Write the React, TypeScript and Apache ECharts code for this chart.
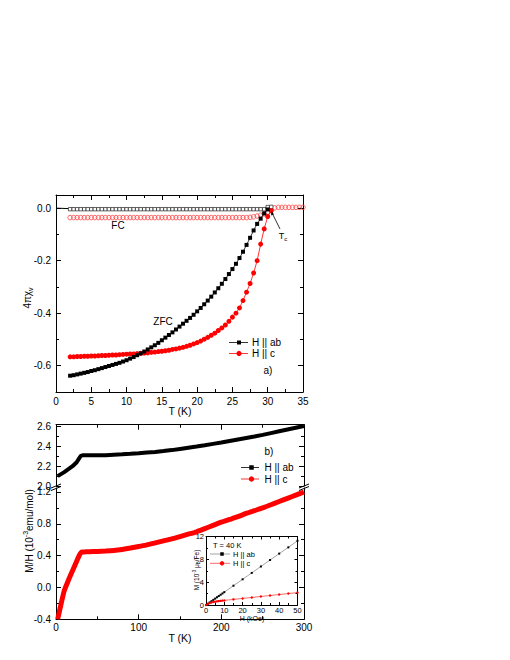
import React, { useEffect, useRef } from 'react';
import * as echarts from 'echarts';

const FONT = '"Liberation Sans", Arial, Helvetica, sans-serif';

// ---------- Panel a) : 4*pi*chi_v vs T ----------
const tempA = [2, 2.5, 3, 3.5, 4, 4.5, 5, 5.5, 6, 6.5, 7, 7.5, 8, 8.5, 9, 9.5, 10, 10.5, 11, 11.5, 12, 12.5, 13, 13.5, 14, 14.5, 15, 15.5, 16, 16.5, 17, 17.5, 18, 18.5, 19, 19.5, 20, 20.5, 21, 21.5, 22, 22.5, 23, 23.5, 24, 24.5, 25, 25.5, 26, 26.5, 27, 27.5, 28, 28.5, 29, 29.5, 30, 30.5, 31, 31.5, 32, 32.5, 33, 33.5, 34, 34.5, 35];

const zfcAb = [-0.638, -0.636, -0.633, -0.630, -0.627, -0.624, -0.620, -0.617, -0.613, -0.609, -0.605, -0.601, -0.597, -0.593, -0.589, -0.584, -0.579, -0.573, -0.567, -0.560, -0.553, -0.546, -0.538, -0.530, -0.522, -0.513, -0.503, -0.493, -0.483, -0.473, -0.462, -0.451, -0.440, -0.429, -0.418, -0.406, -0.393, -0.380, -0.366, -0.352, -0.337, -0.321, -0.305, -0.288, -0.270, -0.251, -0.232, -0.212, -0.190, -0.166, -0.140, -0.113, -0.085, -0.060, -0.040, -0.020, -0.005];

const zfcC = [-0.566, -0.566, -0.565, -0.565, -0.564, -0.564, -0.563, -0.563, -0.562, -0.561, -0.561, -0.560, -0.559, -0.559, -0.558, -0.557, -0.556, -0.555, -0.555, -0.554, -0.553, -0.552, -0.551, -0.549, -0.548, -0.546, -0.545, -0.543, -0.541, -0.538, -0.536, -0.533, -0.530, -0.526, -0.522, -0.517, -0.512, -0.506, -0.499, -0.492, -0.484, -0.476, -0.466, -0.456, -0.445, -0.431, -0.415, -0.400, -0.380, -0.352, -0.320, -0.287, -0.247, -0.200, -0.137, -0.079, -0.032, -0.010];

const fcAb = [-0.004, -0.004, -0.004, -0.004, -0.004, -0.004, -0.004, -0.004, -0.004, -0.004, -0.004, -0.004, -0.004, -0.004, -0.004, -0.004, -0.004, -0.004, -0.004, -0.004, -0.004, -0.004, -0.004, -0.004, -0.004, -0.004, -0.004, -0.004, -0.004, -0.004, -0.004, -0.004, -0.004, -0.004, -0.004, -0.004, -0.004, -0.004, -0.004, -0.004, -0.004, -0.004, -0.004, -0.004, -0.004, -0.004, -0.004, -0.004, -0.004, -0.004, -0.004, -0.004, -0.004, -0.004, -0.004, -0.004, 0.004, 0.005];

const fcC = [-0.036, -0.036, -0.036, -0.036, -0.036, -0.036, -0.036, -0.036, -0.036, -0.036, -0.036, -0.036, -0.036, -0.036, -0.036, -0.036, -0.036, -0.036, -0.036, -0.036, -0.036, -0.036, -0.036, -0.036, -0.036, -0.036, -0.036, -0.036, -0.036, -0.036, -0.036, -0.036, -0.036, -0.036, -0.036, -0.036, -0.036, -0.036, -0.036, -0.036, -0.036, -0.036, -0.036, -0.036, -0.036, -0.036, -0.036, -0.036, -0.036, -0.036, -0.036, -0.035, -0.033, -0.030, -0.027, -0.022, -0.015, -0.006, 0.001, 0.003, 0.003, 0.003, 0.003, 0.003, 0.003, 0.003, 0.003];

const baseLineT = [0, 2];
const baseLineV = [0, -0.002];

// ---------- Panel b) : M/H vs T ----------
const tempB = [2, 5, 10, 15, 20, 25, 28, 30, 32, 35, 40, 50, 60, 70, 80, 90, 100, 110, 120, 130, 140, 150, 160, 170, 180, 190, 200, 210, 220, 230, 240, 250, 260, 270, 280, 290, 300];
const mhAb = [2.10, 2.115, 2.14, 2.17, 2.20, 2.24, 2.28, 2.305, 2.31, 2.31, 2.31, 2.31, 2.312, 2.316, 2.32, 2.325, 2.331, 2.338, 2.345, 2.353, 2.363, 2.375, 2.387, 2.399, 2.412, 2.426, 2.44, 2.455, 2.47, 2.485, 2.50, 2.517, 2.535, 2.553, 2.571, 2.589, 2.607];
const mhC = [-0.40, -0.26, -0.04, 0.09, 0.21, 0.33, 0.40, 0.435, 0.445, 0.447, 0.45, 0.452, 0.457, 0.465, 0.478, 0.495, 0.515, 0.535, 0.56, 0.585, 0.61, 0.64, 0.67, 0.70, 0.74, 0.78, 0.82, 0.855, 0.89, 0.93, 0.965, 1.00, 1.04, 1.08, 1.12, 1.16, 1.20];

// ---------- Inset : M vs H at 40 K ----------
const fieldH = [0, 1, 2, 3, 4, 5, 6, 7, 8, 9, 10, 15, 20, 25, 30, 35, 40, 45, 50];
const mAb = [0, 0.22, 0.45, 0.67, 0.9, 1.12, 1.35, 1.57, 1.8, 2.02, 2.25, 3.38, 4.5, 5.62, 6.75, 7.88, 9.0, 10.1, 11.25];
const mC = [0, 0.2, 0.35, 0.45, 0.52, 0.58, 0.63, 0.68, 0.72, 0.76, 0.8, 0.98, 1.15, 1.32, 1.5, 1.66, 1.83, 2.0, 2.17];

// ---------- ticks ----------
const aXMajor = [0, 5, 10, 15, 20, 25, 30, 35];
const aXMinor = [2.5, 7.5, 12.5, 17.5, 22.5, 27.5, 32.5];
const aYMajor = [-0.6, -0.4, -0.2, 0];
const aYMinor = [-0.7, -0.5, -0.3, -0.1];
const bXMajor = [0, 100, 200, 300];
const bXMinor = [50, 150, 250];
const bYUpMajor = [2.0, 2.2, 2.4, 2.6];
const bYUpMinor = [2.1, 2.3, 2.5];
const bYLoMajor = [-0.4, 0, 0.4, 0.8, 1.2];
const bYLoMinor = [-0.2, 0.2, 0.6, 1.0];
const iXMajor = [0, 10, 20, 30, 40, 50];
const iXMinor = [5, 15, 25, 35, 45];
const iYMajor = [0, 4, 8, 12];
const iYMinor = [2, 6, 10];

const RED = '#ff0000';

const pair = (xs: number[], ys: number[]) => ys.map((y, i) => [xs[i], y]);

function majorAxis(gridIndex: number, position: string, min: number, max: number, vals: number[],
  label: boolean, fs: number, margin: number, dec: number, len: number) {
  return {
    type: 'value', gridIndex, position, min, max,
    axisLine: { show: true, onZero: false, lineStyle: { color: '#000', width: 1 } },
    axisTick: { show: true, inside: true, length: len, customValues: vals, lineStyle: { color: '#000', width: 1 } },
    axisLabel: {
      show: label, customValues: vals, fontSize: fs, margin, color: '#000', fontFamily: FONT,
      formatter: (v: number) => Number(v).toFixed(dec),
    },
    splitLine: { show: false },
    minorTick: { show: false },
  };
}

function minorAxis(gridIndex: number, position: string, min: number, max: number, vals: number[], len: number) {
  return {
    type: 'value', gridIndex, position, min, max,
    axisLine: { show: false, onZero: false },
    axisTick: { show: true, inside: true, length: len, customValues: vals, lineStyle: { color: '#000', width: 1 } },
    axisLabel: { show: false, customValues: vals },
    splitLine: { show: false },
    minorTick: { show: false },
  };
}

const xAxes = [
  majorAxis(0, 'bottom', 0, 35, aXMajor, true, 10, 4, 0, 5), // 0
  minorAxis(0, 'bottom', 0, 35, aXMinor, 3),
  majorAxis(0, 'top', 0, 35, aXMajor, false, 10, 4, 0, 5),
  minorAxis(0, 'top', 0, 35, aXMinor, 3),
  majorAxis(1, 'top', 0, 300, bXMajor, false, 10, 4, 0, 5), // 4
  minorAxis(1, 'top', 0, 300, bXMinor, 3),
  majorAxis(2, 'bottom', 0, 300, bXMajor, true, 10, 3, 0, 5), // 6
  minorAxis(2, 'bottom', 0, 300, bXMinor, 3),
  majorAxis(3, 'bottom', 0, 50, iXMajor, true, 7.5, 1, 0, 3), // 8
  minorAxis(3, 'bottom', 0, 50, iXMinor, 2),
  majorAxis(3, 'top', 0, 50, iXMajor, false, 7.5, 1, 0, 3),
  minorAxis(3, 'top', 0, 50, iXMinor, 2),
];

const yAxes = [
  majorAxis(0, 'left', -0.7, 0.05, aYMajor, true, 10, 5, 1, 5), // 0
  minorAxis(0, 'left', -0.7, 0.05, aYMinor, 3),
  majorAxis(0, 'right', -0.7, 0.05, aYMajor, false, 10, 5, 1, 5),
  minorAxis(0, 'right', -0.7, 0.05, aYMinor, 3),
  majorAxis(1, 'left', 2.0, 2.62, bYUpMajor, true, 10, 5, 1, 5), // 4
  minorAxis(1, 'left', 2.0, 2.62, bYUpMinor, 3),
  majorAxis(1, 'right', 2.0, 2.62, bYUpMajor, false, 10, 5, 1, 5),
  minorAxis(1, 'right', 2.0, 2.62, bYUpMinor, 3),
  majorAxis(2, 'left', -0.4, 1.25, bYLoMajor, true, 10, 5, 1, 5), // 8
  minorAxis(2, 'left', -0.4, 1.25, bYLoMinor, 3),
  majorAxis(2, 'right', -0.4, 1.25, bYLoMajor, false, 10, 5, 1, 5),
  minorAxis(2, 'right', -0.4, 1.25, bYLoMinor, 3),
  majorAxis(3, 'left', 0, 12, iYMajor, true, 7.5, 2, 0, 3), // 12
  minorAxis(3, 'left', 0, 12, iYMinor, 2),
  majorAxis(3, 'right', 0, 12, iYMajor, false, 7.5, 2, 0, 3),
  minorAxis(3, 'right', 0, 12, iYMinor, 2),
];

const txt = (x: number, y: number, text: string, fs: number, extra: any = {}) => ({
  type: 'text', x, y, z: 100,
  style: { text, fontSize: fs, fontFamily: FONT, fill: '#000', align: 'center', verticalAlign: 'middle', ...extra },
});
const seg = (x1: number, y1: number, x2: number, y2: number, color = '#000', w = 1) => ({
  type: 'line', z: 100, shape: { x1, y1, x2, y2 }, style: { stroke: color, lineWidth: w },
});
const sq = (cx: number, cy: number, s: number, color = '#000') => ({
  type: 'rect', z: 101, shape: { x: cx - s / 2, y: cy - s / 2, width: s, height: s }, style: { fill: color },
});
const dot = (cx: number, cy: number, r: number, color = RED) => ({
  type: 'circle', z: 101, shape: { cx, cy, r }, style: { fill: color },
});

const graphics = [
  // panel a texts
  txt(118, 225, 'FC', 10),
  txt(163, 321, 'ZFC', 10),
  txt(268, 370.5, 'a)', 10),
  {
    type: 'text', x: 283, y: 236, z: 100,
    style: {
      text: '{n|T}{s|c}', align: 'center', verticalAlign: 'middle', fill: '#000', fontFamily: FONT,
      rich: {
        n: { fontSize: 9, lineHeight: 12, verticalAlign: 'middle', fontFamily: FONT, fill: '#000' },
        s: { fontSize: 6, lineHeight: 6, verticalAlign: 'bottom', fontFamily: FONT, fill: '#000' },
      },
    },
  },
  seg(280, 229, 271.6, 212, '#000', 0.8),
  { type: 'polygon', z: 100, shape: { points: [[271.2, 211], [274.0, 214.2], [271.2, 215.5]] }, style: { fill: '#000' } },
  // panel a legend
  seg(229, 342.5, 248, 342.5, '#000', 0.8), sq(239, 342.5, 4),
  txt(252, 342.5, 'H || ab', 10, { align: 'left' }),
  seg(229, 353.5, 248, 353.5, RED, 0.8), dot(239, 353.5, 2.6),
  txt(252, 353.5, 'H || c', 10, { align: 'left' }),
  // axis titles
  txt(180, 410.5, 'T (K)', 10.5),
  txt(180, 637.5, 'T (K)', 10.5),
  {
    type: 'text', x: 27, y: 298, rotation: Math.PI / 2, z: 100,
    style: {
      text: '{n|4πχ}{s|v}', align: 'center', verticalAlign: 'middle', fill: '#000', fontFamily: FONT,
      rich: {
        n: { fontSize: 10, lineHeight: 14, verticalAlign: 'middle', fontFamily: FONT, fill: '#000' },
        s: { fontSize: 7, lineHeight: 7, verticalAlign: 'bottom', fontFamily: FONT, fill: '#000' },
      },
    },
  },
  {
    type: 'text', x: 29, y: 531, rotation: Math.PI / 2, z: 100,
    style: {
      text: '{n|M/H (10}{p|-3}{n|emu/mol)}', align: 'center', verticalAlign: 'middle', fill: '#000', fontFamily: FONT,
      rich: {
        n: { fontSize: 10, lineHeight: 14, verticalAlign: 'middle', fontFamily: FONT, fill: '#000' },
        p: { fontSize: 7, lineHeight: 7, verticalAlign: 'top', fontFamily: FONT, fill: '#000' },
      },
    },
  },
  // panel b texts
  txt(269, 451.5, 'b)', 10),
  seg(241, 467.5, 259, 467.5, '#000', 0.8), sq(251.5, 467.5, 4.5),
  txt(264.5, 467.5, 'H || ab', 10, { align: 'left' }),
  seg(241, 479, 259, 479, RED, 0.8), dot(251.5, 479, 2.7),
  txt(264.5, 479, 'H || c', 10, { align: 'left' }),
  // axis breaks
  seg(51, 488, 61, 484, '#000', 1),
  seg(51, 490.5, 61, 486.5, '#000', 1),
  seg(299, 488, 309, 484, '#000', 1),
  seg(299, 490.5, 309, 486.5, '#000', 1),
  // inset texts
  txt(213, 545, 'T = 40 K', 7.5, { align: 'left' }),
  seg(210, 554, 230, 554, '#666', 0.6), sq(222, 554, 3.5),
  txt(233, 554, 'H || ab', 7.5, { align: 'left' }),
  seg(210, 563.3, 230, 563.3, RED, 0.6), dot(222, 563.3, 2.2),
  txt(233, 563.3, 'H || c', 7.5, { align: 'left' }),
  txt(252, 618.5, 'H (kOe)', 7),
  {
    type: 'text', x: 196.5, y: 570, rotation: Math.PI / 2, z: 100,
    style: {
      text: '{n|M (10}{p|-3}{n| μ}{s|B}{n|/Fe)}', align: 'center', verticalAlign: 'middle', fill: '#000', fontFamily: FONT,
      rich: {
        n: { fontSize: 6.5, lineHeight: 9, verticalAlign: 'middle', fontFamily: FONT, fill: '#000' },
        p: { fontSize: 4.5, lineHeight: 4.5, verticalAlign: 'top', fontFamily: FONT, fill: '#000' },
        s: { fontSize: 4.5, lineHeight: 4.5, verticalAlign: 'bottom', fontFamily: FONT, fill: '#000' },
      },
    },
  },
];

export default function App() {
  const ref = useRef<HTMLDivElement>(null);
  useEffect(() => {
    if (!ref.current) return;
    const chart = echarts.init(ref.current, null, { renderer: 'svg' });
    chart.setOption({
      animation: false,
      backgroundColor: '#fff',
      textStyle: { fontFamily: FONT },
      grid: [
        { left: 56, top: 195, width: 247, height: 197 },
        { left: 56, top: 424.7, width: 248, height: 61.3 },
        { left: 56, top: 488, width: 248, height: 131.3 },
        { left: 206, top: 536.5, width: 91.5, height: 68.5, show: true, backgroundColor: '#fff', borderWidth: 0 },
      ],
      xAxis: xAxes,
      yAxis: yAxes,
      graphic: { elements: graphics },
      series: [
        {
          type: 'line', xAxisIndex: 0, yAxisIndex: 0, data: pair(baseLineT, baseLineV),
          showSymbol: false, symbol: 'none', lineStyle: { color: '#000', width: 1 }, z: 2,
        },
        {
          type: 'line', xAxisIndex: 0, yAxisIndex: 0, data: pair(tempA, fcC),
          symbol: 'circle', symbolSize: 4.5, lineStyle: { width: 0, opacity: 0 },
          itemStyle: { color: 'rgba(255,255,255,0)', borderColor: '#ff3b3b', borderWidth: 0.8 }, z: 3,
        },
        {
          type: 'line', xAxisIndex: 0, yAxisIndex: 0, data: pair(tempA, fcAb),
          symbol: 'rect', symbolSize: 3.4, lineStyle: { width: 0, opacity: 0 },
          itemStyle: { color: '#fff', borderColor: '#222', borderWidth: 0.7 }, z: 4,
        },
        {
          type: 'line', xAxisIndex: 0, yAxisIndex: 0, data: pair(tempA, zfcC),
          symbol: 'circle', symbolSize: 5, lineStyle: { color: RED, width: 0.8 },
          itemStyle: { color: RED }, z: 5,
        },
        {
          type: 'line', xAxisIndex: 0, yAxisIndex: 0, data: pair(tempA, zfcAb),
          symbol: 'rect', symbolSize: 4, lineStyle: { color: '#000', width: 0.8 },
          itemStyle: { color: '#000' }, z: 6,
        },
        {
          type: 'line', xAxisIndex: 4, yAxisIndex: 4, data: pair(tempB, mhAb),
          symbol: 'none', lineStyle: { color: '#000', width: 4 }, z: 3,
        },
        {
          type: 'line', xAxisIndex: 6, yAxisIndex: 8, data: pair(tempB, mhC),
          symbol: 'none', smooth: 0.2, lineStyle: { color: RED, width: 5 }, z: 3,
        },
        {
          type: 'line', xAxisIndex: 8, yAxisIndex: 12, data: pair(fieldH, mAb),
          symbol: 'rect', symbolSize: 2, lineStyle: { color: '#666', width: 0.6 },
          itemStyle: { color: '#000' }, z: 6,
        },
        {
          type: 'line', xAxisIndex: 8, yAxisIndex: 12, data: pair(fieldH, mC),
          symbol: 'circle', symbolSize: 2.4, lineStyle: { color: RED, width: 0.6 },
          itemStyle: { color: RED }, z: 6,
        },
      ],
    });
    return () => chart.dispose();
  }, []);
  return <div ref={ref} style={{ position: 'fixed', left: 0, top: 0, width: 510, height: 660, background: '#fff' }} />;
}
